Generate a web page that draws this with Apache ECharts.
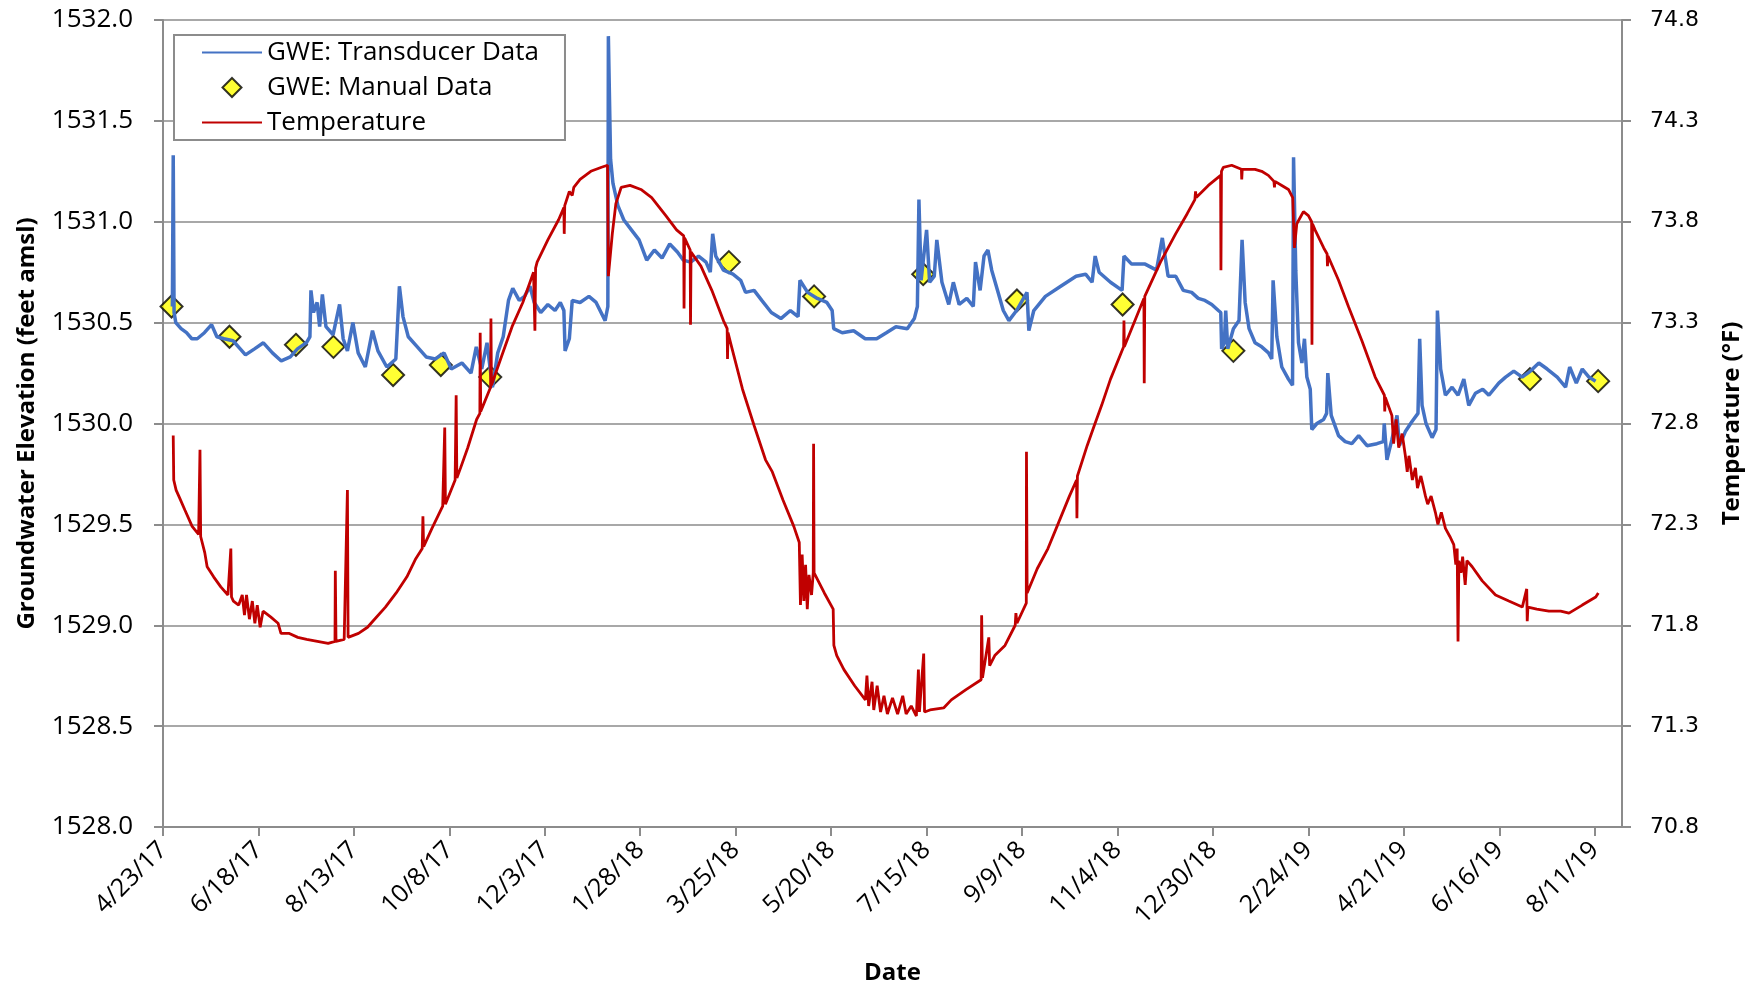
<!DOCTYPE html>
<html>
<head>
<meta charset="utf-8">
<title>Groundwater Elevation and Temperature</title>
<script src="https://cdn.jsdelivr.net/npm/echarts@6/dist/echarts.min.js"></script>
<style>
  html, body { margin: 0; padding: 0; background: #ffffff; }
  #chart { width: 1760px; height: 989px; }
</style>
</head>
<body>
<div id="chart"></div>
<script>
// Day 0 of the record (4/23/17); transducer and temperature readings are keyed by days since then.
const START_UTC = Date.UTC(2017, 3, 23);
const MS_PER_DAY = 86400000;
const AXIS_END_DAY = 856;
const TICK_STEP_DAYS = 56;
const TICK_COUNT = 16;

// Groundwater elevation limits (feet amsl) and temperature limits (°F)
const elevationRange = [1528.0, 1532.0];
const temperatureRange = [70.8, 74.8];

// Manual groundwater level measurements: [date, feet amsl]
const manualReadings = [
  ['2017-04-28', 1530.58], ['2017-06-01', 1530.43], ['2017-07-10', 1530.39],
  ['2017-08-01', 1530.38], ['2017-09-05', 1530.24], ['2017-10-03', 1530.29],
  ['2017-11-01', 1530.23], ['2018-03-21', 1530.80], ['2018-05-10', 1530.63],
  ['2018-07-13', 1530.74], ['2018-09-06', 1530.61], ['2018-11-07', 1530.59],
  ['2019-01-11', 1530.36], ['2019-07-04', 1530.22], ['2019-08-13', 1530.21]
];

// Pressure transducer record: [day, feet amsl]
const transducerReadings = [
  [5.5,1530.58],[6,1531.33],[6.5,1530.55],[7.5,1530.50],[10.6,1530.47],[13.8,1530.45],[16.9,1530.42],
  [20.1,1530.42],[24.3,1530.45],[28.5,1530.49],[31.6,1530.43],[35.8,1530.42],[41.1,1530.41],[45.3,1530.37],
  [48.4,1530.34],[53.7,1530.37],[58.9,1530.40],[64.2,1530.35],[69.4,1530.31],[74.7,1530.33],[78.9,1530.37],
  [84.1,1530.40],[86.2,1530.43],[86.8,1530.66],[88.3,1530.55],[90.4,1530.60],[91.9,1530.48],[93.5,1530.64],
  [95.6,1530.48],[99.8,1530.44],[103.6,1530.59],[105.7,1530.42],[108.2,1530.36],[111.4,1530.50],[114.5,1530.35],
  [118.7,1530.28],[122.9,1530.46],[126.1,1530.36],[131.3,1530.28],[136.6,1530.32],[138.7,1530.68],[140.8,1530.53],
  [143.9,1530.43],[149.2,1530.38],[154.4,1530.33],[159.7,1530.32],[164.9,1530.35],[169.1,1530.27],[175.4,1530.30],
  [180.7,1530.25],[183.8,1530.38],[187,1530.27],[190.1,1530.40],[193.3,1530.18],[196.4,1530.35],[199.6,1530.43],
  [202.7,1530.61],[205.2,1530.67],[209,1530.61],[212.1,1530.63],[215.3,1530.68],[217.8,1530.60],[221.6,1530.55],
  [225.8,1530.59],[230,1530.56],[233.1,1530.60],[235.2,1530.56],[235.9,1530.36],[238.4,1530.42],[240.1,1530.61],
  [244.7,1530.60],[249.9,1530.63],[254.1,1530.60],[259.4,1530.51],[261,1530.58],[261.3,1531.92],[262.6,1531.31],
  [264,1531.19],[266.9,1531.08],[270.3,1531.01],[274.8,1530.96],[279.3,1530.91],[283.8,1530.81],[288.3,1530.86],
  [292.8,1530.82],[297.3,1530.89],[301.8,1530.85],[305.2,1530.81],[309.6,1530.80],[314.2,1530.83],[318.6,1530.80],
  [321.1,1530.75],[322.5,1530.94],[324.3,1530.83],[328.8,1530.76],[334.4,1530.74],[338.9,1530.71],[341.8,1530.65],
  [346.8,1530.66],[351.3,1530.61],[356.9,1530.55],[362.5,1530.52],[368.1,1530.56],[372.6,1530.53],[373.7,1530.71],
  [378.2,1530.65],[383.9,1530.62],[389.5,1530.60],[392.6,1530.56],[393.5,1530.47],[398.5,1530.45],[405.2,1530.46],
  [412,1530.42],[418.7,1530.42],[424.4,1530.45],[430,1530.48],[436.7,1530.47],[440.8,1530.52],[442.6,1530.58],
  [443.5,1531.11],[444.8,1530.71],[448,1530.96],[449.8,1530.70],[452.5,1530.73],[454,1530.91],[457,1530.70],
  [461,1530.59],[463.7,1530.70],[467.1,1530.59],[471.6,1530.62],[475.4,1530.58],[476.7,1530.80],[479.4,1530.66],
  [481.7,1530.83],[484,1530.86],[486.2,1530.76],[489.6,1530.66],[493,1530.56],[496.3,1530.51],[500.8,1530.56],
  [504.2,1530.61],[506.9,1530.65],[508,1530.46],[510.9,1530.56],[517.7,1530.63],[526.7,1530.68],[535.7,1530.73],
  [541.3,1530.74],[545.1,1530.70],[546.9,1530.83],[549.2,1530.75],[555.9,1530.70],[562.7,1530.66],[563.8,1530.83],
  [568.3,1530.79],[576.2,1530.79],[582.9,1530.76],[586.3,1530.92],[589.7,1530.73],[594.2,1530.73],[598.6,1530.66],
  [603.5,1530.65],[607.4,1530.62],[611.3,1530.61],[615.3,1530.59],[619.2,1530.56],[620.6,1530.55],[621.1,1530.37],
  [622.7,1530.40],[623.5,1530.56],[624.7,1530.37],[628,1530.47],[631.3,1530.51],[633.1,1530.91],[634.9,1530.60],
  [637.2,1530.47],[640.7,1530.40],[644.6,1530.38],[648.6,1530.35],[650.5,1530.32],[651.3,1530.71],[653.5,1530.43],
  [656.4,1530.28],[660.3,1530.22],[662.7,1530.19],[663.3,1531.32],[664.6,1530.76],[666.2,1530.40],[668.2,1530.30],
  [669.7,1530.42],[671.1,1530.23],[673.1,1530.17],[674,1529.97],[677,1530.00],[680.9,1530.02],[682.7,1530.05],
  [683.4,1530.25],[685.4,1530.04],[689.7,1529.94],[693.6,1529.91],[697.5,1529.90],[701.5,1529.94],[706.4,1529.89],
  [712.2,1529.90],[716,1529.91],[716.5,1530.00],[718.1,1529.82],[721,1529.92],[724,1530.04],[725.4,1529.89],
  [728.9,1529.96],[732.8,1530.01],[736.3,1530.05],[737.3,1530.42],[738.7,1530.09],[741,1530.00],[744.6,1529.93],
  [746.9,1529.97],[747.7,1530.56],[749.6,1530.27],[752.4,1530.14],[756.3,1530.18],[759.8,1530.14],[763.2,1530.22],
  [766.1,1530.09],[770,1530.15],[774.3,1530.17],[777.9,1530.14],[783.7,1530.20],[787.7,1530.23],[792.5,1530.26],
  [797.4,1530.23],[802.3,1530.26],[807.2,1530.30],[812.1,1530.27],[818,1530.23],[822.9,1530.18],[825.3,1530.28],
  [829.2,1530.20],[832.7,1530.27],[836.6,1530.23],[840.5,1530.21]
];

// Groundwater temperature record: [day, °F]
const temperatureReadings = [
  [6,72.74],[6.3,72.52],[7.7,72.47],[9.8,72.43],[12.9,72.37],[17.1,72.29],[20.9,72.25],[21.7,72.67],[22.1,72.24],
  [24.5,72.16],[25.9,72.09],[29.7,72.04],[33.9,71.99],[38.1,71.95],[39.8,72.18],[40.2,71.94],[41.3,71.92],
  [44.4,71.90],[46.5,71.95],[47.8,71.85],[49,71.95],[50.7,71.83],[52.4,71.92],[53.9,71.81],[55.3,71.90],
  [57,71.79],[58.7,71.87],[63.3,71.84],[67.5,71.81],[69.2,71.76],[73.8,71.76],[79.1,71.74],[84.3,71.73],
  [90.6,71.72],[96.9,71.71],[100.9,71.72],[101.1,72.07],[101.5,71.72],[106.3,71.73],[108.2,72.47],[108.6,71.74],
  [114.7,71.76],[120,71.79],[123.1,71.82],[130.5,71.89],[136.8,71.96],[143.1,72.04],[148.3,72.13],[152.1,72.18],
  [152.5,72.34],[152.9,72.19],[157.8,72.28],[164.1,72.39],[165.3,72.78],[165.7,72.40],[171.4,72.52],[172,72.94],
  [172.4,72.53],[174.6,72.58],[178.8,72.68],[184,72.82],[185.9,72.85],[186.1,73.25],[186.4,72.86],[192.2,72.98],
  [192.4,73.32],[192.7,72.99],[198.5,73.13],[204.8,73.28],[211.1,73.40],[217.4,73.55],[218.2,73.26],[218.6,73.57],
  [219.5,73.60],[225.8,73.71],[232.1,73.81],[235.2,73.87],[235.4,73.74],[235.7,73.88],[238.4,73.95],[240.1,73.93],
  [241,73.97],[244.7,74.01],[251,74.05],[257.3,74.07],[260.8,74.08],[261.3,73.53],[263.6,73.74],[265.7,73.89],
  [268.8,73.97],[274,73.98],[280.4,73.96],[286.7,73.92],[295,73.83],[301.3,73.76],[305.5,73.73],[305.7,73.37],
  [306,73.72],[309.3,73.66],[309.5,73.29],[309.8,73.65],[315.6,73.58],[322,73.46],[328.8,73.31],[331,73.27],
  [331.2,73.12],[331.5,73.25],[333.3,73.19],[340,72.97],[346.8,72.79],[353.5,72.62],[357.5,72.56],[363.8,72.42],
  [370.1,72.29],[373.3,72.21],[374,71.90],[375,72.15],[376,71.92],[377,72.10],[378,71.88],[379,72.05],
  [380.5,71.95],[381.5,72.06],[381.7,72.70],[382,72.06],[388,71.96],[393.2,71.88],[393.6,71.70],[395.3,71.65],
  [399.5,71.58],[405.8,71.50],[412.1,71.43],[413,71.55],[414,71.40],[416,71.52],[417,71.38],[419,71.50],
  [421,71.37],[423,71.45],[425,71.36],[428,71.44],[431,71.36],[434,71.45],[436,71.36],[439,71.40],[442,71.35],
  [443.2,71.58],[443.8,71.37],[446.3,71.66],[446.8,71.37],[450,71.38],[458,71.39],[462.5,71.43],[470.9,71.48],
  [480,71.53],[480.3,71.85],[480.8,71.54],[484.5,71.74],[485,71.60],[488,71.65],[494,71.70],[500,71.80],
  [500.4,71.86],[501,71.81],[506.5,71.91],[506.6,72.66],[507,71.96],[512.9,72.08],[519.2,72.18],[525.5,72.31],
  [531.8,72.44],[536,72.52],[536.2,72.33],[536.5,72.54],[542.2,72.69],[546.4,72.79],[550.7,72.89],[555.9,73.02],
  [563.6,73.18],[563.8,73.31],[564,73.18],[575.5,73.42],[575.7,73.00],[576,73.43],[585.2,73.60],[594.1,73.74],
  [600.9,73.84],[605.4,73.91],[605.8,73.95],[606.2,73.92],[613.3,73.98],[620.5,74.03],[620.7,73.56],[621,74.05],
  [622.1,74.07],[627,74.08],[632.7,74.06],[632.9,74.01],[633.2,74.06],[640.7,74.06],[644.6,74.05],[648.5,74.03],
  [651.8,74.00],[652.1,73.97],[652.4,74.00],[656.4,73.98],[660.3,73.96],[662.8,73.92],[663.8,73.67],[665.2,73.79],
  [669.1,73.85],[672,73.83],[673.9,73.80],[674.1,73.19],[674.4,73.79],[675.9,73.76],[681,73.67],[683,73.64],
  [683.2,73.58],[683.5,73.63],[689.7,73.51],[695.5,73.38],[703.4,73.21],[711.2,73.03],[716.6,72.94],[716.8,72.86],
  [717.1,72.93],[721,72.84],[722,72.70],[723.5,72.82],[725,72.68],[727,72.75],[728.9,72.64],[730,72.56],
  [731,72.64],[733,72.52],[734.8,72.58],[736,72.48],[738,72.54],[740.7,72.44],[742,72.40],[744,72.44],
  [746.5,72.36],[748,72.30],[750,72.36],[752.4,72.28],[755,72.24],[757.3,72.20],[758.5,72.10],[759.3,72.18],
  [759.8,71.72],[760.3,72.12],[761.5,72.06],[762.5,72.14],[764,72.00],[765,72.12],[768.1,72.09],[774,72.02],
  [781.8,71.95],[789.6,71.92],[797.5,71.89],[800.1,71.98],[800.4,71.82],[800.8,71.89],[806,71.88],[813.1,71.87],
  [820,71.87],[824.9,71.86],[832.7,71.90],[840.6,71.94],[842.1,71.96]
];

const SERIES_NAMES = ['GWE: Transducer Data', 'GWE: Manual Data', 'Temperature'];

function dayOf(isoDate) {
  const p = isoDate.split('-').map(Number);
  return (Date.UTC(p[0], p[1] - 1, p[2]) - START_UTC) / MS_PER_DAY;
}

function dateLabel(day) {
  const t = new Date(START_UTC + Math.round(day) * MS_PER_DAY);
  return (t.getUTCMonth() + 1) + '/' + t.getUTCDate() + '/' + String(t.getUTCFullYear()).slice(2);
}

const tickDays = [];
for (let i = 0; i < TICK_COUNT; i++) tickDays.push(i * TICK_STEP_DAYS);

const AXIS_GRAY = '#8c8c8c';
const GRID_GRAY = '#a8a8a8';
const LINE_ICON = 'path://M0,0 L60,0 L60,2.2 L0,2.2 Z';
const DIAMOND_ICON = 'path://M9,0 L18,9 L9,18 L0,9 Z';
const TITLE_STYLE = { fontSize: 24, fontWeight: 'bold', color: '#000000', fontFamily: 'Open Sans' };

const chart = echarts.init(document.getElementById('chart'), null, { renderer: 'canvas' });

chart.setOption({
  animation: false,
  backgroundColor: '#ffffff',
  textStyle: { fontFamily: 'Open Sans', color: '#000000' },
  grid: { left: 163, right: 138, top: 20, bottom: 162, outerBoundsMode: 'none', containLabel: false },
  legend: {
    orient: 'vertical',
    left: 174,
    top: 35,
    padding: [4, 26, 4, 28],
    itemGap: 8,
    itemWidth: 60,
    itemHeight: 19,
    symbolKeepAspect: true,
    borderColor: AXIS_GRAY,
    borderWidth: 2,
    backgroundColor: '#ffffff',
    textStyle: { fontSize: 26, lineHeight: 27, color: '#000000', fontFamily: 'Open Sans' },
    data: [
      { name: SERIES_NAMES[0], icon: LINE_ICON },
      { name: SERIES_NAMES[1], icon: DIAMOND_ICON },
      { name: SERIES_NAMES[2], icon: LINE_ICON }
    ]
  },
  xAxis: {
    type: 'value',
    min: 0,
    max: AXIS_END_DAY,
    interval: TICK_STEP_DAYS,
    name: 'Date',
    nameLocation: 'middle',
    nameGap: 134,
    nameMoveOverlap: false,
    nameTextStyle: TITLE_STYLE,
    axisLine: { show: true, lineStyle: { color: AXIS_GRAY, width: 2 } },
    axisTick: { show: true, length: 9, customValues: tickDays, lineStyle: { color: AXIS_GRAY, width: 2 } },
    axisLabel: {
      rotate: 45, margin: 19, fontSize: 25, color: '#000000',
      customValues: tickDays, formatter: dateLabel
    },
    splitLine: { show: false }
  },
  yAxis: [
    {
      type: 'value',
      position: 'left',
      min: elevationRange[0],
      max: elevationRange[1],
      interval: 0.5,
      name: 'Groundwater Elevation (feet amsl)',
      nameLocation: 'middle',
      nameRotate: 90,
      nameGap: 124,
      nameMoveOverlap: false,
      nameTextStyle: TITLE_STYLE,
      axisLine: { show: true, lineStyle: { color: AXIS_GRAY, width: 2 } },
      axisTick: { show: true, length: 9, lineStyle: { color: AXIS_GRAY, width: 2 } },
      axisLabel: { margin: 30, fontSize: 26, color: '#000000', formatter: v => v.toFixed(1) },
      splitLine: { show: true, lineStyle: { color: GRID_GRAY, width: 2 } }
    },
    {
      type: 'value',
      position: 'right',
      min: temperatureRange[0],
      max: temperatureRange[1],
      interval: 0.5,
      name: 'Temperature (°F)',
      nameLocation: 'middle',
      nameRotate: 90,
      nameGap: 98,
      nameMoveOverlap: false,
      nameTextStyle: TITLE_STYLE,
      axisLine: { show: true, lineStyle: { color: AXIS_GRAY, width: 2 } },
      axisTick: { show: true, length: 9, lineStyle: { color: AXIS_GRAY, width: 2 } },
      axisLabel: { margin: 28, fontSize: 22, color: '#000000', fontFamily: 'DejaVu Sans', formatter: v => v.toFixed(1) },
      splitLine: { show: false }
    }
  ],
  series: [
    {
      name: SERIES_NAMES[0],
      type: 'line',
      yAxisIndex: 0,
      symbol: 'none',
      data: transducerReadings,
      color: '#4472C4',
      lineStyle: { color: '#4472C4', width: 3.5 },
      emphasis: { disabled: true }
    },
    {
      name: SERIES_NAMES[1],
      type: 'scatter',
      yAxisIndex: 0,
      symbol: 'diamond',
      symbolSize: 22,
      data: manualReadings.map(r => [dayOf(r[0]), r[1]]),
      itemStyle: { color: '#FFFF00', borderColor: '#000000', borderWidth: 2 },
      emphasis: { disabled: true }
    },
    {
      name: SERIES_NAMES[2],
      type: 'line',
      yAxisIndex: 1,
      symbol: 'none',
      data: temperatureReadings,
      color: '#C00000',
      lineStyle: { color: '#C00000', width: 2.8 },
      emphasis: { disabled: true }
    }
  ]
});
</script>
</body>
</html>
